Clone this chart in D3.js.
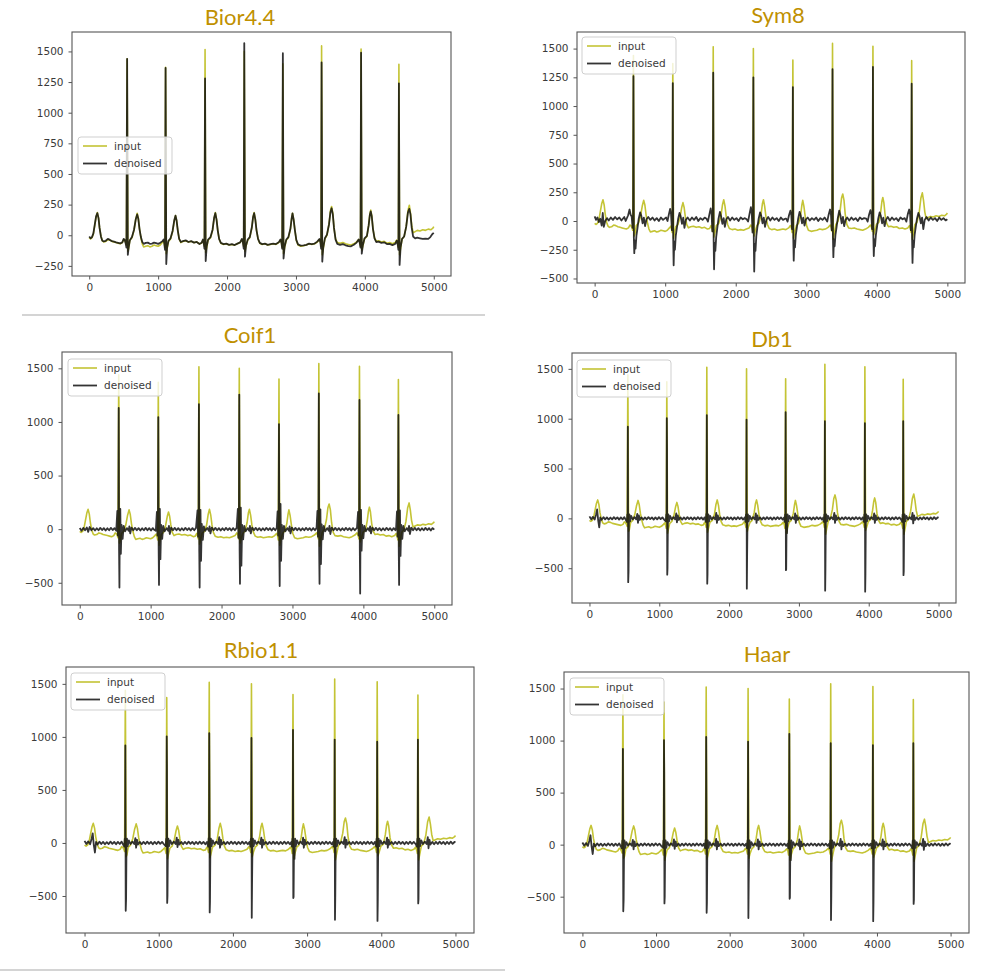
<!DOCTYPE html>
<html><head><meta charset="utf-8">
<script src="https://cdn.jsdelivr.net/npm/d3@7/dist/d3.min.js"></script>
<style>
html,body{margin:0;padding:0;background:#fff;}
svg{display:block;}
</style></head>
<body>
<svg id="chart" width="991" height="976"></svg>
<script>
// ---------------- DATA ----------------
const panelTitles = ["Bior4.4", "Sym8", "Coif1", "Db1", "Rbio1.1", "Haar"];
const legendLabels = ["input", "denoised"];
const xTicks = [0, 1000, 2000, 3000, 4000, 5000];
const yTicksBior = [-250, 0, 250, 500, 750, 1000, 1250, 1500];
const yTicksSym = [-500, -250, 0, 250, 500, 750, 1000, 1250, 1500];
const yTicksWide = [-500, 0, 500, 1000, 1500];

// input ECG (sample index, amplitude)
const inputSignal = [[0,-20],[20,-30],[40,-20],[60,10],[80,80],[100,150],[118,185],[135,140],[150,60],[170,-10],[190,-45],[210,-55],[240,-50],[270,-35],[300,-40],[330,-50],[360,-55],[390,-60],[420,-65],[450,-70],[480,-60],[500,-35],[515,-40],[530,-60],[540,-80],[550,1440],[560,-130],[572,-110],[590,-40],[620,-20],[650,40],[675,130],[696,180],[712,140],[730,50],[750,-20],[770,-70],[790,-95],[820,-90],[850,-85],[880,-95],[910,-90],[940,-80],[970,-85],[1000,-90],[1030,-80],[1060,-60],[1080,-45],[1090,-70],[1100,-100],[1108,1370],[1118,-150],[1130,-110],[1150,-50],[1180,-30],[1210,30],[1235,120],[1252,160],[1268,120],[1285,40],[1305,-30],[1330,-60],[1360,-50],[1400,-45],[1440,-55],[1480,-50],[1520,-60],[1560,-55],[1600,-70],[1630,-65],[1650,-40],[1662,-60],[1672,-90],[1681,1515],[1690,-140],[1705,-100],[1725,-40],[1760,-20],[1790,40],[1812,140],[1830,185],[1848,130],[1865,40],[1885,-30],[1910,-65],[1950,-75],[1990,-70],[2030,-80],[2070,-75],[2110,-80],[2150,-70],[2190,-60],[2215,-35],[2230,-55],[2242,-90],[2250,1500],[2260,-130],[2275,-90],[2300,-40],[2330,-20],[2360,60],[2378,150],[2393,185],[2410,130],[2428,40],[2450,-30],[2475,-65],[2510,-75],[2550,-70],[2590,-80],[2630,-75],[2670,-70],[2710,-75],[2750,-60],[2775,-40],[2790,-60],[2800,-100],[2810,1400],[2820,-150],[2835,-100],[2860,-40],[2890,-20],[2920,50],[2938,140],[2950,180],[2966,130],[2985,40],[3005,-40],[3030,-80],[3070,-90],[3110,-85],[3150,-80],[3190,-70],[3230,-75],[3270,-70],[3310,-55],[3340,-35],[3355,-55],[3365,-90],[3372,1545],[3382,-160],[3396,-110],[3420,-30],[3450,0],[3480,90],[3500,200],[3517,235],[3535,180],[3552,60],[3575,-30],[3600,-60],[3640,-65],[3680,-60],[3720,-70],[3760,-75],[3800,-80],[3840,-70],[3880,-55],[3910,-35],[3925,-55],[3937,-90],[3945,1520],[3955,-120],[3970,-90],[3995,-30],[4030,-10],[4055,80],[4072,170],[4085,205],[4100,160],[4118,50],[4140,-20],[4165,-50],[4200,-45],[4240,-55],[4280,-50],[4320,-65],[4360,-60],[4400,-70],[4440,-60],[4462,-40],[4478,-70],[4487,-100],[4494,1395],[4504,-160],[4518,-110],[4540,-30],[4570,-10],[4600,70],[4625,200],[4645,245],[4662,180],[4680,80],[4700,20],[4730,30],[4760,40],[4800,35],[4840,45],[4880,40],[4920,50],[4960,45],[4990,60],[5000,70]];

const biorDenoised = [[0,-10],[20,-25],[40,-15],[60,15],[80,85],[100,155],[118,180],[135,140],[150,60],[170,-10],[190,-45],[210,-50],[240,-45],[270,-30],[300,-38],[330,-48],[360,-52],[390,-58],[420,-62],[450,-66],[480,-58],[500,-30],[515,-38],[530,-70],[540,-100],[550,1440],[560,-160],[572,-100],[590,-40],[620,-15],[650,45],[675,130],[696,170],[712,135],[730,50],[750,-15],[770,-55],[790,-70],[820,-62],[850,-60],[880,-70],[910,-68],[940,-60],[970,-65],[1000,-70],[1030,-62],[1060,-50],[1080,-35],[1090,-70],[1100,-120],[1108,1365],[1118,-235],[1130,-100],[1150,-45],[1180,-25],[1210,35],[1235,125],[1252,160],[1268,120],[1285,40],[1305,-30],[1330,-55],[1360,-48],[1400,-42],[1440,-55],[1480,-48],[1520,-60],[1560,-55],[1600,-72],[1630,-62],[1650,-35],[1662,-65],[1672,-110],[1681,1280],[1690,-210],[1705,-90],[1725,-35],[1760,-15],[1790,45],[1812,140],[1830,180],[1848,125],[1865,40],[1885,-30],[1910,-62],[1950,-72],[1990,-68],[2030,-78],[2070,-72],[2110,-80],[2150,-68],[2190,-58],[2215,-30],[2230,-60],[2242,-110],[2250,1568],[2260,-175],[2275,-85],[2300,-35],[2330,-15],[2360,65],[2378,150],[2393,180],[2410,130],[2428,40],[2450,-30],[2475,-62],[2510,-72],[2550,-68],[2590,-78],[2630,-72],[2670,-68],[2710,-72],[2750,-58],[2775,-35],[2790,-65],[2800,-110],[2810,1486],[2820,-190],[2835,-95],[2860,-35],[2890,-15],[2920,55],[2938,140],[2950,178],[2966,130],[2985,40],[3005,-38],[3030,-75],[3070,-85],[3110,-82],[3150,-78],[3190,-68],[3230,-72],[3270,-68],[3310,-52],[3340,-30],[3355,-60],[3365,-110],[3372,1410],[3382,-215],[3396,-100],[3420,-25],[3450,5],[3480,90],[3500,185],[3517,220],[3535,170],[3552,60],[3575,-35],[3600,-70],[3640,-78],[3680,-72],[3720,-82],[3760,-88],[3800,-90],[3840,-78],[3880,-60],[3910,-35],[3925,-60],[3937,-100],[3945,1490],[3955,-150],[3970,-85],[3995,-25],[4030,-5],[4055,80],[4072,165],[4085,195],[4100,155],[4118,50],[4140,-25],[4165,-55],[4200,-52],[4240,-62],[4280,-58],[4320,-72],[4360,-70],[4400,-80],[4440,-70],[4462,-45],[4478,-80],[4487,-120],[4494,1240],[4504,-242],[4518,-100],[4540,-30],[4570,-10],[4600,70],[4625,185],[4645,215],[4662,170],[4680,60],[4700,-10],[4730,-25],[4760,-20],[4800,-25],[4840,-30],[4880,-28],[4920,-30],[4950,-15],[4980,10],[5000,20]];

const sym8Denoised = [[0,40],[20,10],[40,30],[60,-10],[80,20],[100,-40],[115,70],[130,-50],[150,0],[175,25],[200,5],[230,30],[260,10],[290,35],[320,15],[350,30],[380,5],[400,20],[420,35],[440,0],[475,50],[495,100],[510,55],[525,40],[538,-60],[545,-20],[550,1260],[556,-150],[562,-280],[570,-170],[580,-240],[592,-130],[608,-60],[625,20],[645,75],[662,45],[680,-20],[698,30],[715,-45],[735,15],[760,35],[790,10],[820,30],[850,5],[880,25],[910,0],[940,30],[970,10],[1000,25],[1013,30],[1033,0],[1053,60],[1070,105],[1083,60],[1096,-80],[1103,-30],[1108,1200],[1114,-160],[1120,-385],[1128,-180],[1138,-250],[1150,-130],[1166,-60],[1183,15],[1203,70],[1220,40],[1238,-25],[1256,30],[1273,-60],[1293,10],[1318,30],[1350,5],[1380,30],[1410,10],[1440,35],[1470,0],[1500,25],[1530,10],[1560,30],[1586,20],[1606,-5],[1626,55],[1645,110],[1658,60],[1669,-90],[1676,-30],[1681,1290],[1687,-170],[1693,-420],[1701,-190],[1711,-260],[1723,-140],[1739,-60],[1756,20],[1776,80],[1793,40],[1811,-25],[1829,25],[1846,-50],[1866,15],[1890,35],[1920,5],[1950,30],[1980,10],[2010,25],[2040,0],[2070,30],[2100,15],[2130,25],[2155,15],[2175,-5],[2195,60],[2215,120],[2228,60],[2238,-100],[2245,-30],[2250,1250],[2256,-160],[2262,-440],[2270,-200],[2280,-260],[2292,-130],[2308,-50],[2325,20],[2345,75],[2362,45],[2380,-20],[2398,30],[2415,-50],[2435,10],[2460,35],[2490,5],[2520,30],[2550,10],[2580,25],[2610,0],[2640,30],[2670,10],[2700,20],[2715,20],[2735,-5],[2755,50],[2775,90],[2788,50],[2798,-70],[2805,-20],[2810,1165],[2816,-150],[2822,-345],[2830,-170],[2840,-230],[2852,-120],[2868,-50],[2885,20],[2905,80],[2922,45],[2940,-20],[2958,30],[2975,-40],[2995,15],[3020,30],[3050,5],[3080,25],[3110,10],[3140,30],[3170,0],[3200,25],[3230,10],[3260,30],[3277,15],[3297,-5],[3317,55],[3337,100],[3350,55],[3360,-80],[3367,-30],[3372,1320],[3378,-140],[3384,-315],[3392,-160],[3402,-220],[3414,-120],[3430,-50],[3447,25],[3467,90],[3484,50],[3502,-20],[3520,35],[3537,-45],[3557,10],[3580,30],[3610,5],[3640,30],[3670,10],[3700,25],[3730,0],[3760,30],[3790,15],[3820,25],[3850,20],[3870,-5],[3890,55],[3910,95],[3923,55],[3933,-70],[3940,-20],[3945,1340],[3951,-140],[3957,-305],[3965,-160],[3975,-220],[3987,-120],[4003,-50],[4020,20],[4040,75],[4057,45],[4075,-20],[4093,30],[4110,-45],[4130,10],[4155,35],[4185,5],[4215,30],[4245,10],[4275,25],[4305,0],[4335,30],[4365,15],[4395,25],[4419,-5],[4439,60],[4459,100],[4472,55],[4482,-80],[4489,-30],[4494,1195],[4500,-150],[4506,-365],[4514,-170],[4524,-230],[4536,-120],[4552,-50],[4569,20],[4589,70],[4606,40],[4624,-20],[4642,30],[4659,-70],[4679,10],[4705,35],[4735,5],[4765,30],[4795,10],[4825,25],[4855,0],[4885,30],[4915,10],[4945,25],[4975,5],[5000,15]];

const coif1Denoised = [[0,10],[25,-15],[50,12],[75,-10],[100,15],[120,-25],[140,20],[165,-10],[190,10],[215,-12],[240,8],[265,-10],[290,12],[315,-8],[340,10],[365,-12],[390,8],[415,-10],[440,12],[465,-8],[490,10],[515,-15],[530,170],[538,-60],[545,80],[550,1130],[555,-200],[560,-545],[565,60],[572,190],[580,-230],[590,40],[605,-90],[620,30],[640,-20],[665,10],[690,-15],[700,25],[712,-40],[730,15],[755,-10],[780,12],[805,-10],[830,10],[855,-12],[880,8],[905,-10],[930,12],[955,-10],[980,10],[1005,-12],[1030,10],[1055,-8],[1073,-15],[1088,160],[1096,-60],[1103,70],[1108,1045],[1113,-180],[1118,-520],[1123,50],[1130,190],[1138,-280],[1148,40],[1163,-90],[1178,30],[1198,-20],[1225,10],[1248,-15],[1258,30],[1270,-45],[1290,15],[1315,-10],[1340,12],[1365,-10],[1390,10],[1415,-12],[1440,8],[1465,-10],[1490,12],[1515,-8],[1540,10],[1565,-12],[1590,10],[1615,-10],[1640,12],[1661,175],[1669,-70],[1676,90],[1681,1165],[1686,-210],[1691,-545],[1696,60],[1703,180],[1711,-295],[1721,50],[1736,-100],[1751,25],[1771,-15],[1798,12],[1821,-15],[1831,25],[1843,-40],[1863,15],[1888,-10],[1913,12],[1938,-10],[1963,10],[1988,-12],[2013,8],[2038,-10],[2063,12],[2088,-8],[2113,10],[2138,-12],[2163,10],[2188,-10],[2213,12],[2230,190],[2238,-80],[2245,90],[2250,1255],[2255,-200],[2260,-510],[2265,70],[2272,200],[2280,-340],[2290,40],[2305,-95],[2320,30],[2340,-20],[2367,10],[2390,-15],[2400,30],[2412,-40],[2432,15],[2457,-10],[2482,12],[2507,-10],[2532,10],[2557,-12],[2582,8],[2607,-10],[2632,12],[2657,-8],[2682,10],[2707,-12],[2732,10],[2757,-10],[2778,12],[2790,165],[2798,-60],[2805,70],[2810,980],[2815,-190],[2820,-530],[2825,60],[2832,235],[2840,-295],[2850,40],[2865,-90],[2880,30],[2900,-20],[2927,10],[2950,-15],[2960,25],[2972,-40],[2992,15],[3017,-10],[3042,12],[3067,-10],[3092,10],[3117,-12],[3142,8],[3167,-10],[3192,12],[3217,-8],[3242,10],[3267,-12],[3292,10],[3317,-10],[3340,12],[3352,170],[3360,-70],[3367,80],[3372,1265],[3377,-200],[3382,-510],[3387,60],[3394,185],[3402,-325],[3412,45],[3427,-95],[3442,30],[3462,-20],[3489,10],[3512,-15],[3522,30],[3534,-45],[3554,15],[3579,-10],[3604,12],[3629,-10],[3654,10],[3679,-12],[3704,8],[3729,-10],[3754,12],[3779,-8],[3804,10],[3829,-12],[3854,10],[3879,-10],[3910,12],[3925,160],[3933,-60],[3940,70],[3945,1205],[3950,-190],[3955,-600],[3960,50],[3967,180],[3975,-200],[3985,40],[4000,-85],[4015,30],[4035,-20],[4062,10],[4085,-15],[4095,25],[4107,-40],[4127,15],[4152,-10],[4177,12],[4202,-10],[4227,10],[4252,-12],[4277,8],[4302,-10],[4327,12],[4352,-8],[4377,10],[4402,-12],[4427,10],[4452,-10],[4462,12],[4474,165],[4482,-70],[4489,80],[4494,1065],[4499,-180],[4504,-520],[4509,55],[4516,175],[4524,-250],[4534,40],[4549,-90],[4564,30],[4584,-20],[4611,10],[4634,-15],[4644,30],[4656,-45],[4676,15],[4701,-10],[4726,12],[4751,-10],[4776,10],[4801,-12],[4826,8],[4851,-10],[4876,12],[4901,-8],[4926,10],[4951,-12],[4976,10],[5000,-5]];

// Db1, Rbio1.1 and Haar give the same reconstruction in the reference
const haarFamilyDenoised = [[0,20],[25,-10],[50,15],[75,-12],[95,40],[110,90],[125,-20],[140,-90],[155,10],[175,-15],[200,12],[225,-10],[250,10],[275,-12],[300,8],[325,-10],[350,12],[375,-8],[400,10],[425,-12],[450,10],[475,-10],[500,12],[520,-15],[535,-35],[542,40],[547,-20],[550,920],[555,-640],[560,-530],[565,-60],[572,40],[582,-30],[597,25],[620,-10],[645,12],[670,-10],[685,45],[695,-45],[708,30],[720,-15],[745,10],[770,-12],[795,10],[820,-10],[845,12],[870,-8],[895,10],[920,-12],[945,10],[970,-10],[995,12],[1020,-8],[1045,10],[1070,-12],[1093,-30],[1100,40],[1105,-20],[1108,1005],[1111,700],[1114,-565],[1118,-500],[1123,-60],[1130,40],[1140,-30],[1155,25],[1178,-10],[1203,12],[1228,-10],[1243,50],[1253,-40],[1266,30],[1278,-15],[1303,10],[1328,-12],[1353,10],[1378,-10],[1403,12],[1428,-8],[1453,10],[1478,-12],[1503,10],[1528,-10],[1553,12],[1578,-8],[1603,10],[1628,-12],[1650,10],[1666,-35],[1673,45],[1678,-20],[1681,1035],[1684,465],[1687,-655],[1691,-560],[1696,-60],[1703,40],[1713,-30],[1728,25],[1751,-10],[1776,12],[1801,-10],[1816,55],[1826,-45],[1839,30],[1851,-15],[1876,10],[1901,-12],[1926,10],[1951,-10],[1976,12],[2001,-8],[2026,10],[2051,-12],[2076,10],[2101,-10],[2126,12],[2151,-8],[2176,10],[2201,-12],[2225,10],[2235,-35],[2242,40],[2247,-20],[2250,990],[2254,-705],[2258,-390],[2263,-60],[2270,40],[2280,-30],[2295,25],[2318,-10],[2343,12],[2368,-10],[2383,50],[2393,-45],[2406,30],[2418,-15],[2443,10],[2468,-12],[2493,10],[2518,-10],[2543,12],[2568,-8],[2593,10],[2618,-12],[2643,10],[2668,-10],[2693,12],[2718,-8],[2743,10],[2768,-12],[2788,10],[2795,-35],[2802,40],[2807,-20],[2810,1065],[2814,-520],[2818,-510],[2823,-60],[2830,-150],[2838,40],[2848,-30],[2863,25],[2886,-10],[2911,12],[2936,-10],[2946,50],[2956,-45],[2969,30],[2981,-15],[3006,10],[3031,-12],[3056,10],[3081,-10],[3106,12],[3131,-8],[3156,10],[3181,-12],[3206,10],[3231,-10],[3256,12],[3281,-8],[3306,10],[3331,-12],[3350,10],[3357,-35],[3364,40],[3369,-20],[3372,975],[3376,-725],[3380,-505],[3385,-60],[3392,40],[3402,-30],[3417,25],[3440,-10],[3465,12],[3490,-10],[3507,55],[3517,-45],[3530,30],[3542,-15],[3567,10],[3592,-12],[3617,10],[3642,-10],[3667,12],[3692,-8],[3717,10],[3742,-12],[3767,10],[3792,-10],[3817,12],[3842,-8],[3867,10],[3892,-12],[3915,10],[3930,-35],[3937,40],[3942,-20],[3945,955],[3949,-735],[3953,-555],[3958,-60],[3965,40],[3975,-30],[3990,25],[4013,-10],[4038,12],[4063,-10],[4078,50],[4088,-45],[4101,30],[4113,-15],[4138,10],[4163,-12],[4188,10],[4213,-10],[4238,12],[4263,-8],[4288,10],[4313,-12],[4338,10],[4363,-10],[4388,12],[4413,-8],[4438,10],[4465,-12],[4479,-35],[4486,40],[4491,-20],[4494,975],[4498,-570],[4502,-530],[4507,-60],[4514,40],[4524,-30],[4539,25],[4562,-10],[4587,12],[4612,-10],[4627,55],[4637,-50],[4650,30],[4662,-15],[4687,10],[4712,-12],[4737,10],[4762,-10],[4787,12],[4812,-8],[4837,10],[4862,-12],[4887,10],[4912,-10],[4937,12],[4962,-8],[4987,10],[5000,5]];

// ---------------- LAYOUT ----------------
const panels = [
  {title: panelTitles[0], den: biorDenoised, yTicks: yTicksBior,
   frame: {x0: 72, y0: 32, x1: 451, y1: 276}, titlePos: [240, 25], legend: [78, 137]},
  {title: panelTitles[1], den: sym8Denoised, yTicks: yTicksSym,
   frame: {x0: 577, y0: 32, x1: 965, y1: 283}, titlePos: [778, 23], legend: [582, 37]},
  {title: panelTitles[2], den: coif1Denoised, yTicks: yTicksWide,
   frame: {x0: 62, y0: 352, x1: 452, y1: 605}, titlePos: [250, 343], legend: [68, 359]},
  {title: panelTitles[3], den: haarFamilyDenoised, yTicks: yTicksWide,
   frame: {x0: 572, y0: 353, x1: 956, y1: 603}, titlePos: [772, 347], legend: [577, 360]},
  {title: panelTitles[4], den: haarFamilyDenoised, yTicks: yTicksWide,
   frame: {x0: 66, y0: 667, x1: 474, y1: 933}, titlePos: [261, 658], legend: [71, 673]},
  {title: panelTitles[5], den: haarFamilyDenoised, yTicks: yTicksWide,
   frame: {x0: 564, y0: 672, x1: 969, y1: 933}, titlePos: [767, 662], legend: [570, 678]}
];

const inputColor = "#c4c435";
const denColor = "#111";
const svg = d3.select("#chart");

// separator rules
svg.append("line").attr("x1", 22).attr("x2", 485).attr("y1", 315).attr("y2", 315)
  .attr("stroke", "#d4d4d4").attr("stroke-width", 2);
svg.append("line").attr("x1", 0).attr("x2", 505).attr("y1", 970).attr("y2", 970)
  .attr("stroke", "#d4d4d4").attr("stroke-width", 2);

panels.forEach((p, i) => {
  const f = p.frame;
  const x = d3.scaleLinear().domain([-250, 5250]).range([f.x0, f.x1]);
  const all = inputSignal.concat(p.den).map(d => d[1]);
  const [mn, mx] = d3.extent(all);
  const pad = (mx - mn) * 0.05;
  const y = d3.scaleLinear().domain([mn - pad, mx + pad]).range([f.y1, f.y0]);

  const g = svg.append("g");
  const clipId = "clip" + i;
  g.append("clipPath").attr("id", clipId).append("rect")
    .attr("x", f.x0).attr("y", f.y0).attr("width", f.x1 - f.x0).attr("height", f.y1 - f.y0);

  const line = d3.line().x(d => x(d[0])).y(d => y(d[1]));
  const plot = g.append("g").attr("clip-path", `url(#${clipId})`);
  plot.append("path").datum(inputSignal).attr("d", line)
    .attr("fill", "none").attr("stroke", inputColor).attr("stroke-width", 1.6)
    .attr("stroke-linejoin", "round");
  plot.append("path").datum(p.den).attr("d", line)
    .attr("fill", "none").attr("stroke", denColor).attr("stroke-opacity", 0.85)
    .attr("stroke-width", 1.8).attr("stroke-linejoin", "round");

  // frame
  g.append("rect").attr("x", f.x0).attr("y", f.y0)
    .attr("width", f.x1 - f.x0).attr("height", f.y1 - f.y0)
    .attr("fill", "none").attr("stroke", "#555").attr("stroke-width", 1.1);

  // axes
  const xa = g.append("g").attr("transform", `translate(0,${f.y1})`)
    .call(d3.axisBottom(x).tickValues(xTicks).tickSize(3.5).tickPadding(4).tickFormat(d3.format("d")));
  const ya = g.append("g").attr("transform", `translate(${f.x0},0)`)
    .call(d3.axisLeft(y).tickValues(p.yTicks).tickSize(3.5).tickPadding(5)
      .tickFormat(d => d < 0 ? "\u2212" + Math.abs(d) : String(d)));
  [xa, ya].forEach(a => {
    a.select(".domain").remove();
    a.selectAll("line").attr("stroke", "#555");
    a.selectAll("text").attr("fill", "#3a3a3a").style("font-family", "DejaVu Sans")
      .style("font-size", "10.5px");
  });

  // title
  svg.append("text").attr("x", p.titlePos[0]).attr("y", p.titlePos[1])
    .attr("text-anchor", "middle").attr("fill", "#bf9000")
    .style("font-family", "Lato, 'Open Sans', sans-serif").style("font-size", "22px")
    .text(p.title);

  // legend
  const [lx, ly] = p.legend;
  const lg = svg.append("g").attr("transform", `translate(${lx},${ly})`);
  lg.append("rect").attr("width", 94).attr("height", 37).attr("rx", 3)
    .attr("fill", "#fff").attr("fill-opacity", 0.8).attr("stroke", "#cfcfcf");
  [[legendLabels[0], inputColor, 1.6, 1], [legendLabels[1], denColor, 1.8, 0.85]].forEach((e, k) => {
    const cy = 9 + k * 17.5;
    lg.append("line").attr("x1", 5).attr("x2", 29).attr("y1", cy).attr("y2", cy)
      .attr("stroke", e[1]).attr("stroke-width", e[2]).attr("stroke-opacity", e[3]);
    lg.append("text").attr("x", 36).attr("y", cy + 3.7).attr("fill", "#3a3a3a")
      .style("font-family", "DejaVu Sans").style("font-size", "10.5px").text(e[0]);
  });
});
</script>
</body></html>
